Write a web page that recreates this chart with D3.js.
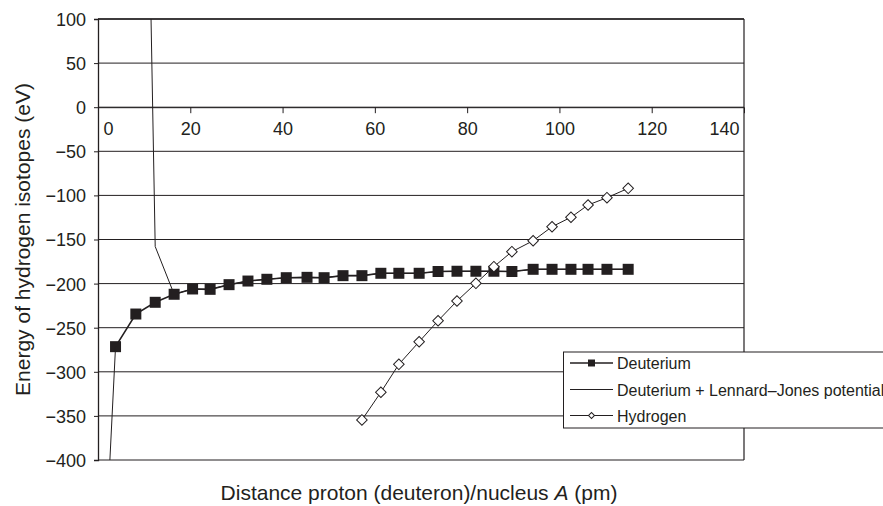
<!DOCTYPE html>
<html><head><meta charset="utf-8">
<script src="https://cdn.jsdelivr.net/npm/d3@7"></script>
<style>
html,body{margin:0;padding:0;background:#fff;overflow:hidden;}
svg{display:block;font-family:"Liberation Sans",Arial,Helvetica,sans-serif;}
</style></head>
<body>
<svg id="chart" width="883" height="506"></svg>
<script>
// ---- data ----
const distance = [3.8, 8.2, 12.4, 16.5, 20.5, 24.3, 28.4, 32.5, 36.6, 40.8, 45.3, 49.0, 53.1, 57.2,
  61.3, 65.2, 69.6, 73.7, 77.8, 81.9, 85.8, 89.7, 94.3, 98.4, 102.5, 106.2, 110.3, 114.9];
const deuterium = [-271.5, -234.5, -221.2, -212.1, -206.1, -206.5, -201.2, -197.1, -195.1, -193.3,
  -192.9, -193.3, -191, -191, -188.3, -188.3, -188.3, -186.3, -186, -186, -186, -186.3,
  -183.8, -183.8, -183.8, -183.8, -183.8, -183.8];
const hydrogen = [null, null, null, null, null, null, null, null, null, null, null, null, null,
  -354.6, -323.2, -291.5, -265.9, -242.1, -219.7, -199.7, -180.8, -163.8, -151.4, -135.5,
  -124.8, -110.9, -102.6, -92];
const ljDistance = [0, 3.8, 6.0, 8.2, 12.4, 16.5, 20.5, 24.3, 28.4, 32.5, 36.6, 40.8, 45.3, 49.0,
  53.1, 57.2, 61.3, 65.2, 69.6, 73.7, 77.8, 81.9, 85.8, 89.7, 94.3, 98.4, 102.5, 106.2, 110.3, 114.9];
const ljEnergy = [-670, -271.5, null, 1040, -158, -212.1, -206.1, -206.5, -201.2, -197.1, -195.1,
  -193.3, -192.9, -193.3, -191, -191, -188.3, -188.3, -188.3, -186.3, -186, -186, -186, -186.3,
  -183.8, -183.8, -183.8, -183.8, -183.8, -183.8];
const xTicks = [0, 20, 40, 60, 80, 100, 120, 140];
const yTicks = [100, 50, 0, -50, -100, -150, -200, -250, -300, -350, -400];
const seriesNames = ["Deuterium", "Deuterium + Lennard\u2013Jones potential", "Hydrogen"];

// ---- layout ----
const ink = "#231f20";
const L = 98, R = 744, T = 19, B = 460;
const svg = d3.select("#chart");
const x = d3.scaleLinear().domain([0, 140]).range([L, R]);
const y = d3.scaleLinear().domain([-400, 100]).range([B, T]);

svg.append("defs").append("clipPath").attr("id", "plotclip")
  .append("rect").attr("x", L).attr("y", T).attr("width", R - L).attr("height", B - T);

// gridlines
svg.append("g").selectAll("line").data(yTicks).join("line")
  .attr("x1", L).attr("x2", R).attr("y1", d => y(d)).attr("y2", d => y(d))
  .attr("stroke", ink).attr("stroke-width", 1);

// border right
svg.append("line").attr("x1", R).attr("x2", R).attr("y1", T).attr("y2", B)
  .attr("stroke", ink).attr("stroke-width", 1.2);

// y axis
const yAxis = d3.axisLeft(y).tickValues(yTicks).tickSize(4).tickPadding(8)
  .tickFormat(d => d < 0 ? "\u2212" + Math.abs(d) : String(d));
const gy = svg.append("g").attr("transform", `translate(${L},0)`).call(yAxis);
gy.select(".domain").attr("stroke", ink).attr("stroke-width", 1.3);
gy.selectAll(".tick line").attr("stroke", ink);
gy.selectAll(".tick text").attr("fill", ink).attr("font-size", 18)
  .attr("font-family", "Liberation Sans, Arial, sans-serif").attr("dy", "0.36em");

// x axis along y=0
const xAxis = d3.axisBottom(x).tickValues(xTicks).tickSize(6).tickPadding(9);
const gx = svg.append("g").attr("transform", `translate(0,${y(0)})`).call(xAxis);
gx.select(".domain").attr("stroke", ink).attr("stroke-width", 1);
gx.selectAll(".tick line").attr("stroke", ink).attr("display", d => (d === 0 || d === 140) ? "none" : null);
gx.selectAll(".tick text").attr("fill", ink).attr("font-size", 18)
  .attr("font-family", "Liberation Sans, Arial, sans-serif")
  .attr("text-anchor", d => d === 0 ? "start" : (d === 140 ? "end" : "middle"))
  .attr("x", d => d === 0 ? 5 : (d === 140 ? -5 : 0));

// series
const plot = svg.append("g").attr("clip-path", "url(#plotclip)");
const dPts = distance.map((d, i) => [d, deuterium[i]]);
const hPts = distance.map((d, i) => [d, hydrogen[i]]);
const ljPts = ljDistance.map((d, i) => [d, ljEnergy[i]]);
const line = d3.line().defined(p => p[1] !== null).x(p => x(p[0])).y(p => y(p[1]));

plot.append("path").attr("d", line(dPts)).attr("fill", "none").attr("stroke", ink).attr("stroke-width", 1.6);
plot.selectAll(".sq").data(dPts).join("path").attr("class", "sq")
  .attr("transform", p => `translate(${x(p[0])},${y(p[1])})`)
  .attr("d", d3.symbol(d3.symbolSquare, 121)()).attr("fill", ink);
plot.append("path").attr("d", line(ljPts)).attr("fill", "none").attr("stroke", ink).attr("stroke-width", 1);
plot.append("path").attr("d", line(hPts)).attr("fill", "none").attr("stroke", ink).attr("stroke-width", 1);
plot.selectAll(".dm").data(hPts.filter(p => p[1] !== null)).join("path").attr("class", "dm")
  .attr("transform", p => `translate(${x(p[0])},${y(p[1])}) rotate(45)`)
  .attr("d", d3.symbol(d3.symbolSquare, 56)()).attr("fill", "#fff").attr("stroke", ink).attr("stroke-width", 1);

// top border
svg.append("line").attr("x1", L).attr("x2", R).attr("y1", T).attr("y2", T).attr("stroke", ink).attr("stroke-width", 1.3);

// axis titles
svg.append("text").attr("transform", "translate(29.5,239.5) rotate(-90)")
  .attr("text-anchor", "middle").attr("font-size", 21).attr("fill", ink)
  .text("Energy of hydrogen isotopes (eV)");
const xt = svg.append("text").attr("x", 419).attr("y", 500).attr("text-anchor", "middle")
  .attr("font-size", 21).attr("fill", ink);
xt.append("tspan").text("Distance proton (deuteron)/nucleus ");
xt.append("tspan").attr("font-style", "italic").text("A");
xt.append("tspan").text(" (pm)");

// legend
const lg = svg.append("g");
lg.append("rect").attr("x", 563.5).attr("y", 352).attr("width", 340).attr("height", 76)
  .attr("fill", "#fff").attr("stroke", ink).attr("stroke-width", 1);
const rows = [363, 389.5, 415.5];
seriesNames.forEach((name, i) => {
  const yy = rows[i];
  lg.append("line").attr("x1", 570).attr("x2", 613).attr("y1", yy).attr("y2", yy)
    .attr("stroke", ink).attr("stroke-width", i === 0 ? 1.3 : 1);
  if (i === 0) lg.append("path").attr("transform", `translate(591.5,${yy})`)
    .attr("d", d3.symbol(d3.symbolSquare, 49)()).attr("fill", ink);
  if (i === 2) lg.append("path").attr("transform", `translate(591.5,${yy}) rotate(45)`)
    .attr("d", d3.symbol(d3.symbolSquare, 18)()).attr("fill", "#fff").attr("stroke", ink).attr("stroke-width", 1);
  lg.append("text").attr("x", 617).attr("y", yy + 6).attr("font-size", 16).attr("fill", ink).text(name);
});
</script>
</body></html>
